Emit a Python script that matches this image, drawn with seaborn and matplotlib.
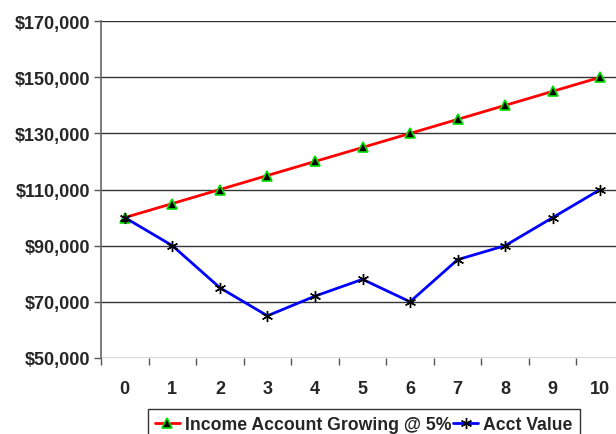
import numpy as np
import pandas as pd
import matplotlib
matplotlib.use("Agg")
import matplotlib.pyplot as plt
from matplotlib.ticker import FuncFormatter
import seaborn as sns

years = list(range(0, 11))
income_5pct = [100000, 105000, 110000, 115000, 120000, 125000,
               130000, 135000, 140000, 145000, 150000]
acct_value = [100000, 90000, 75000, 65000, 72000, 78000,
              70000, 85000, 90000, 100000, 110000]
y_ticks = [50000, 70000, 90000, 110000, 130000, 150000, 170000]

sns.set_style("white")
plt.rcParams['font.family'] = ['Liberation Sans', 'DejaVu Sans']
plt.rcParams['font.weight'] = 'bold'

fig = plt.figure(figsize=(6.16, 4.35), dpi=100)
ax = fig.add_axes([0.164, 0.175, 0.849, 0.774])

sns.lineplot(x=years, y=income_5pct, ax=ax, color="#ff0000", linewidth=2,
             marker="^", markersize=7, markerfacecolor="black",
             markeredgecolor="#00dd00", markeredgewidth=1.2,
             label="Income Account Growing @ 5%")
sns.lineplot(x=years, y=acct_value, ax=ax, color="#0000ff", linewidth=2,
             marker=(6, 2, 0), markersize=8, markeredgecolor="black",
             markeredgewidth=1, label="Acct Value")

ax.set_xlim(-0.5, 10.5)
ax.set_ylim(50000, 170000)
ax.set_yticks(y_ticks)
ax.yaxis.set_major_formatter(FuncFormatter(lambda v, p: f"${v:,.0f}"))
ax.set_xticks(years)
ax.set_xticks(np.arange(-0.5, 11, 1), minor=True)
ax.tick_params(axis="x", which="major", length=0, pad=16, labelsize=13)
ax.tick_params(axis="x", which="minor", length=5, width=1, color="#555555",
               bottom=True, direction="out")
ax.tick_params(axis="y", length=5, width=1, color="#555555", left=True,
               direction="out", pad=3, labelsize=13)
for lab in ax.get_xticklabels() + ax.get_yticklabels():
    lab.set_fontweight("bold")

ax.yaxis.grid(True, color="#333333", linewidth=1)
ax.set_axisbelow(True)
for side in ["top", "right", "bottom"]:
    ax.spines[side].set_visible(False)
ax.spines["left"].set_color("#666666")
ax.spines["left"].set_linewidth(1.2)

leg = ax.legend(loc="upper left", bbox_to_anchor=(148 / 616, 25 / 435),
                bbox_transform=fig.transFigure, ncol=2, frameon=True,
                fancybox=False, edgecolor="black", handlelength=1.4,
                handletextpad=0.3, columnspacing=0.1, borderpad=0.4,
                borderaxespad=0, prop={"size": 12.7, "weight": "bold"})
leg.get_frame().set_linewidth(1)

fig.savefig("out.png", dpi=100)
